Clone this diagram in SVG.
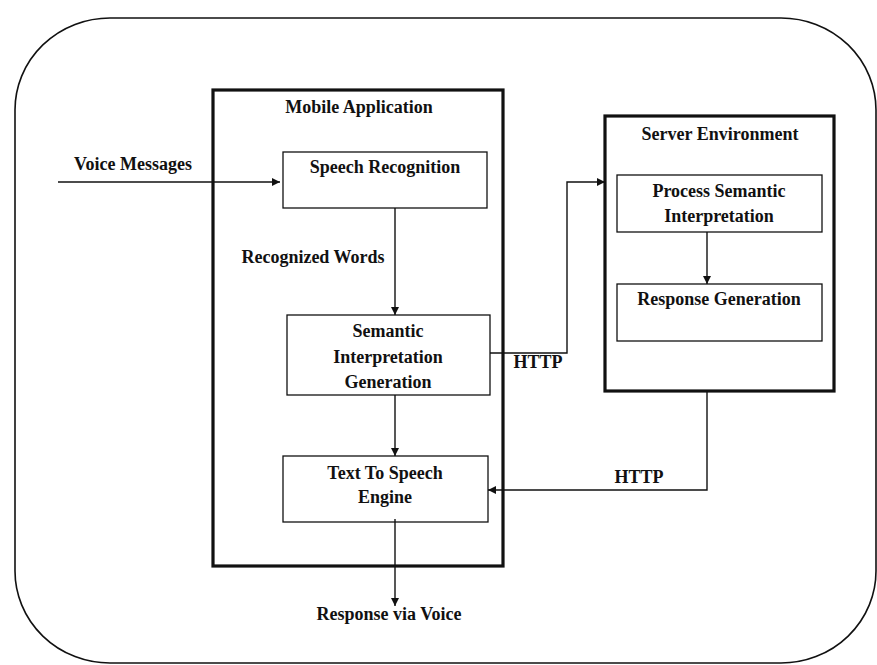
<svg xmlns="http://www.w3.org/2000/svg" width="877" height="665" viewBox="0 0 877 665">
<defs>
<style>
.t{font-family:"Liberation Serif","Times New Roman",serif;font-size:18px;font-weight:bold;fill:#111;text-anchor:middle}
.box{fill:none;stroke:#111;stroke-width:1.3}
.cont{fill:none;stroke:#111;stroke-width:3.2}
.ln{fill:none;stroke:#111;stroke-width:1.4}
</style>
<marker id="ah" viewBox="0 0 10 10" refX="10" refY="5" markerWidth="10" markerHeight="8" markerUnits="userSpaceOnUse" orient="auto">
<path d="M0,0 L10,5 L0,10 z" fill="#111"/>
</marker>
</defs>
<rect width="877" height="665" fill="#fff"/>
<g id="frame">
<rect x="15" y="18" width="861" height="645" rx="95" ry="92" fill="none" stroke="#111" stroke-width="1.6"/>
</g>
<g id="mobile-app">
<rect class="cont" x="213" y="90" width="290" height="476"/>
<text class="t" x="359" y="113">Mobile Application</text>
</g>
<g id="server-env">
<rect class="cont" x="605" y="116" width="229" height="275"/>
<text class="t" x="720" y="140">Server Environment</text>
</g>
<g id="speech-recognition">
<rect class="box" x="283" y="152" width="204" height="56"/>
<text class="t" x="385" y="173">Speech Recognition</text>
</g>
<g id="semantic-interpretation">
<rect class="box" x="287" y="315" width="203" height="80"/>
<text class="t" x="388" y="337">Semantic</text>
<text class="t" x="388" y="363">Interpretation</text>
<text class="t" x="388" y="388">Generation</text>
</g>
<g id="text-to-speech">
<rect class="box" x="283" y="456" width="205" height="66"/>
<text class="t" x="385" y="479">Text To Speech</text>
<text class="t" x="385" y="503">Engine</text>
</g>
<g id="process-semantic">
<rect class="box" x="617" y="175" width="205" height="57"/>
<text class="t" x="719" y="197">Process Semantic</text>
<text class="t" x="719" y="222">Interpretation</text>
</g>
<g id="response-generation">
<rect class="box" x="617" y="284" width="205" height="57"/>
<text class="t" x="719" y="305">Response Generation</text>
</g>
<g id="connectors">
<path class="ln" d="M58,182 H280" marker-end="url(#ah)"/>
<path class="ln" d="M395,208 V315" marker-end="url(#ah)"/>
<path class="ln" d="M395,395 V456" marker-end="url(#ah)"/>
<path class="ln" d="M395,519 V606" marker-end="url(#ah)"/>
<path class="ln" d="M490,353 H567 V182 H605" marker-end="url(#ah)"/>
<path class="ln" d="M707,391 V490 H488" marker-end="url(#ah)"/>
<path class="ln" d="M707,232 V284" marker-end="url(#ah)"/>
<text class="t" x="133" y="170">Voice Messages</text>
<text class="t" x="313" y="263">Recognized Words</text>
<text class="t" x="538" y="368">HTTP</text>
<text class="t" x="639" y="483">HTTP</text>
<text class="t" x="389" y="620">Response via Voice</text>
</g>
</svg>
